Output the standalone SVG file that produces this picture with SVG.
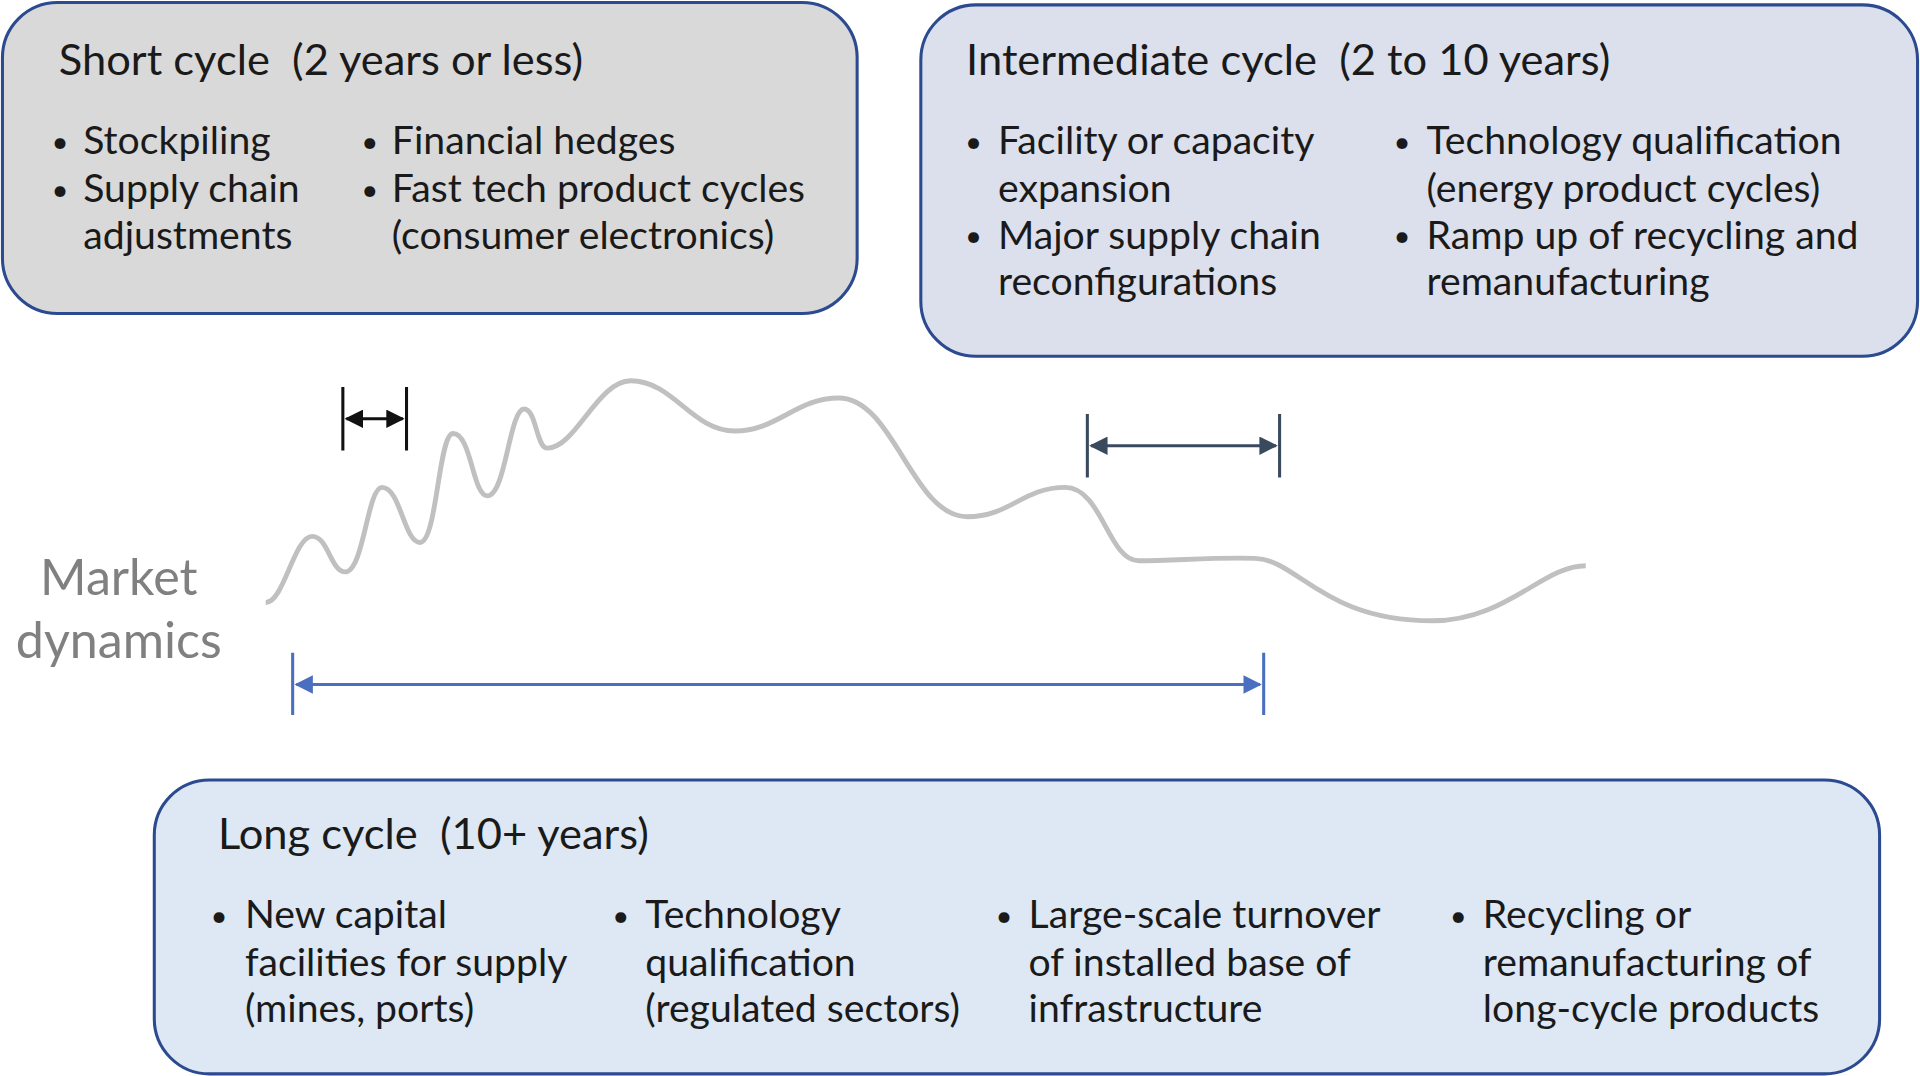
<svg xmlns="http://www.w3.org/2000/svg" width="1920" height="1076" viewBox="0 0 1920 1076">
<defs>
<style>
text{font-family:Lato,"Open Sans","Liberation Sans",sans-serif;fill:#1a1a1a;white-space:pre}
.t{font-size:35.5px}
.b{font-size:32px}
.d{font-size:24px}
.box{stroke:#2b4a8f;stroke-width:2.5}
</style>
<marker id="ak" viewBox="0 0 10 10" refX="9" refY="5" markerWidth="6" markerHeight="6" orient="auto-start-reverse"><path d="M0,0L10,5L0,10z" fill="#111"/></marker>
<marker id="as" viewBox="0 0 10 10" refX="9" refY="5" markerWidth="6" markerHeight="6" orient="auto-start-reverse"><path d="M0,0L10,5L0,10z" fill="#3a4a5e"/></marker>
<marker id="ab" viewBox="0 0 10 10" refX="9" refY="5" markerWidth="6" markerHeight="6" orient="auto-start-reverse"><path d="M0,0L10,5L0,10z" fill="#4a6fc0"/></marker>
</defs>
<rect width="1920" height="1076" fill="#fff"/>
<g transform="scale(1.22449)">
<g id="short">
<rect class="box" x="2" y="2" width="698" height="254" rx="45" fill="#d9d9d9"/>
<text class="t" x="48" y="61" xml:space="preserve">Short cycle  (2 years or less)</text>
<text class="d" x="42" y="124">•</text><text class="b" x="68" y="126">Stockpiling</text>
<text class="d" x="42" y="163">•</text><text class="b" x="68" y="165">Supply chain</text>
<text class="b" x="68" y="203">adjustments</text>
<text class="d" x="295" y="124">•</text><text class="b" x="320" y="126">Financial hedges</text>
<text class="d" x="295" y="163">•</text><text class="b" x="320" y="165">Fast tech product cycles</text>
<text class="b" x="320" y="203">(consumer electronics)</text>
</g>
<g id="intermediate">
<rect class="box" x="752" y="4" width="814" height="287" rx="45" fill="#dce0ec"/>
<text class="t" x="789" y="61" xml:space="preserve">Intermediate cycle  (2 to 10 years)</text>
<text class="d" x="788" y="124">•</text><text class="b" x="815" y="126">Facility or capacity</text>
<text class="b" x="815" y="165">expansion</text>
<text class="d" x="788" y="201">•</text><text class="b" x="815" y="203">Major supply chain</text>
<text class="b" x="815" y="241">reconfigurations</text>
<text class="d" x="1138" y="124">•</text><text class="b" x="1165" y="126">Technology qualification</text>
<text class="b" x="1165" y="165">(energy product cycles)</text>
<text class="d" x="1138" y="201">•</text><text class="b" x="1165" y="203">Ramp up of recycling and</text>
<text class="b" x="1165" y="241">remanufacturing</text>
</g>
<g id="long">
<rect class="box" x="126" y="637" width="1409" height="240" rx="45" fill="#dde8f4"/>
<text class="t" x="178" y="693" xml:space="preserve">Long cycle  (10+ years)</text>
<text class="d" x="172" y="756">•</text><text class="b" x="200" y="758">New capital</text>
<text class="b" x="200" y="797">facilities for supply</text>
<text class="b" x="200" y="835">(mines, ports)</text>
<text class="d" x="500" y="756">•</text><text class="b" x="527" y="758">Technology</text>
<text class="b" x="527" y="797">qualification</text>
<text class="b" x="527" y="835">(regulated sectors)</text>
<text class="d" x="813" y="756">•</text><text class="b" x="840" y="758">Large-scale turnover</text>
<text class="b" x="840" y="797">of installed base of</text>
<text class="b" x="840" y="835">infrastructure</text>
<text class="d" x="1184" y="756">•</text><text class="b" x="1211" y="758">Recycling or</text>
<text class="b" x="1211" y="797">remanufacturing of</text>
<text class="b" x="1211" y="835">long-cycle products</text>
</g>
<g id="market">
<text x="97" y="486" text-anchor="middle" style="font-size:41px;fill:#808080">Market</text>
<text x="97" y="537" text-anchor="middle" style="font-size:41px;fill:#808080">dynamics</text>
<path d="M217,492 C232,492 240,438 255,438 C268,438 270,467 282,467 C297,467 300,398 312,398 C327,398 330,443 343,443 C357,443 358,354 370,354 C385,354 386,405 398,405 C413,405 416,334 428,334 C438,334 438,366 447,366 C470,366 488,311 515,311 C550,311 565,352 600,352 C635,352 650,325 685,325 C730,325 745,422 790,422 C825,422 835,398 870,398 C900,398 905,458 930,458 C960,458 990,455 1025,456 C1060,457 1080,507 1170,507 C1230,507 1260,462 1295,462" fill="none" stroke="#c0c0c0" stroke-width="4"/>
</g>
<g id="connectors" stroke-width="2.5" fill="none">
<path d="M280,316V368M332,316V368" stroke="#111"/>
<path d="M283,342H329" stroke="#111" marker-start="url(#ak)" marker-end="url(#ak)"/>
<path d="M888,338V390M1045,338V390" stroke="#3a4a5e"/>
<path d="M891,364H1042" stroke="#3a4a5e" marker-start="url(#as)" marker-end="url(#as)"/>
<path d="M239,533V584M1032,533V584" stroke="#4a6fc0"/>
<path d="M242,559H1029" stroke="#4a6fc0" marker-start="url(#ab)" marker-end="url(#ab)"/>
</g>
</g>
</svg>
